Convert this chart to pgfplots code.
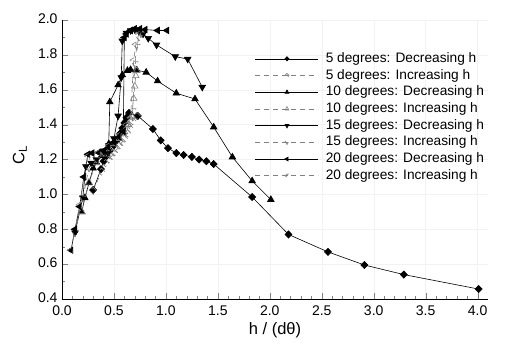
\documentclass[border=0pt]{standalone}
\usepackage{pgfplots}
\pgfplotsset{compat=1.18}
\usepackage{fontspec}
\setmainfont{Liberation Sans}
\begin{document}
\begin{tikzpicture}
\begin{axis}[
  scale only axis,
  width=426pt, height=279pt,
  xmin=0, xmax=4.1, ymin=0.4, ymax=2.0,
  axis lines*=left,
  xtick={0,0.5,...,4.0},
  ytick={0.4,0.6,...,2.0},
  minor x tick num=4,
  minor y tick num=1,
  tick align=inside,
  major tick length=6pt,
  minor tick length=3pt,
  grid=major,
  major grid style={black!5},
  /pgf/number format/assume math mode=true,
  xticklabel style={yshift=-3pt,/pgf/number format/.cd,fixed,fixed zerofill,precision=1},
  yticklabel style={xshift=-1pt,yshift=1pt,/pgf/number format/.cd,fixed,fixed zerofill,precision=1},
  tick label style={font=\fontsize{14}{16}\selectfont},
  xlabel={h / (dθ)},
  ylabel={C\textsubscript{L}},
  xlabel style={at={(axis description cs:0.5,-0.111)},anchor=center,font=\fontsize{16.5}{18}\selectfont},
  ylabel style={at={(axis description cs:-0.099,0.516)},anchor=center,rotate=0,font=\fontsize{16.5}{18}\selectfont},
  legend cell align=left,
  legend style={at={(rel axis cs:0.446,0.892)},anchor=north west,draw=none,fill=none,
     font=\fontsize{13.7}{16}\selectfont,
     nodes={inner sep=0pt,text height=10pt,text depth=3pt},
     row sep=3.7pt,
     /tikz/every odd column/.append style={column sep=7pt}},
  legend image code/.code={%
    \draw[mark repeat=2,mark phase=2,#1,every mark/.append style={scale=0.6}]
      plot coordinates {(0pt,0pt) (31.5pt,0pt) (63pt,0pt)};},
  dec/.style={black,line width=0.6pt,mark options={solid,fill=black}},
  inc/.style={black!50,line width=0.6pt,dash pattern=on 5pt off 4pt,mark options={solid,fill=white,draw=black!50}},
]
\coordinate (O) at (rel axis cs:0,0);
% 5 deg decreasing
\addplot[dec,mark=diamond*,mark size=3.6pt,mark options={xscale=1.3}] coordinates {
(4.01,0.457)(3.29,0.54)(2.91,0.595)(2.56,0.67)(2.18,0.77)(1.83,0.985)
(1.46,1.174)(1.39,1.19)(1.32,1.20)(1.25,1.215)(1.17,1.226)(1.10,1.237)(1.02,1.265)(0.95,1.31)
(0.875,1.375)(0.73,1.45)(0.645,1.467)(0.62,1.44)(0.60,1.41)(0.58,1.38)(0.56,1.35)(0.53,1.31)
(0.50,1.28)(0.46,1.25)(0.43,1.22)(0.40,1.19)(0.375,1.145)(0.30,1.025)};
\addlegendentry{5 degrees: Decreasing h}
% 5 deg increasing
\addplot[inc,mark=diamond,mark size=3.6pt,mark options={xscale=1.3}] coordinates {
(0.30,1.02)(0.38,1.13)(0.42,1.18)(0.45,1.20)(0.48,1.22)(0.50,1.24)(0.53,1.26)(0.55,1.28)(0.58,1.30)
(0.60,1.32)(0.63,1.35)(0.65,1.38)(0.68,1.42)(0.72,1.45)};
\addlegendentry{5 degrees: Increasing h}
% 10 deg decreasing
\addplot[dec,mark=triangle*,mark size=3.8pt] coordinates {
(2.01,0.97)(1.83,1.077)(1.64,1.214)(1.46,1.386)(1.28,1.547)(1.10,1.58)(0.92,1.65)(0.81,1.70)
(0.72,1.713)(0.66,1.715)(0.63,1.71)(0.58,1.685)(0.54,1.627)(0.46,1.53)(0.45,1.29)(0.42,1.25)
(0.38,1.22)(0.33,1.185)(0.30,1.15)(0.26,1.065)(0.22,0.98)(0.19,0.90)};
\addlegendentry{10 degrees: Decreasing h}
% 10 deg increasing
\addplot[inc,mark=triangle,mark size=3.8pt] coordinates {
(0.19,0.90)(0.26,1.07)(0.33,1.18)(0.40,1.23)(0.45,1.26)(0.50,1.29)(0.55,1.32)(0.60,1.36)
(0.64,1.40)(0.67,1.45)(0.69,1.55)(0.70,1.62)(0.71,1.68)(0.72,1.71)};
\addlegendentry{10 degrees: Increasing h}
% 15 deg decreasing
\addplot[dec,mark=triangle*,mark size=3.8pt,mark options={rotate=180}] coordinates {
(1.35,1.615)(1.21,1.776)(1.09,1.79)(0.91,1.857)(0.83,1.895)(0.78,1.92)(0.74,1.935)(0.70,1.945)
(0.66,1.94)(0.62,1.925)(0.58,1.88)(0.57,1.67)(0.54,1.45)(0.50,1.32)(0.45,1.28)(0.40,1.25)
(0.33,1.20)(0.28,1.18)(0.23,1.16)(0.20,0.98)(0.125,0.78)};
\addlegendentry{15 degrees: Decreasing h}
% 15 deg increasing
\addplot[inc,mark=triangle,mark size=3.8pt,mark options={rotate=180}] coordinates {
(0.125,0.78)(0.20,0.98)(0.26,1.15)(0.33,1.20)(0.40,1.24)(0.45,1.27)(0.50,1.30)(0.55,1.33)
(0.60,1.37)(0.65,1.42)(0.68,1.48)(0.70,1.75)(0.72,1.85)(0.74,1.90)(0.76,1.92)};
\addlegendentry{15 degrees: Increasing h}
% 20 deg decreasing
\addplot[dec,mark=triangle*,mark size=3.8pt,mark options={rotate=90}] coordinates {
(1.01,1.94)(0.92,1.94)(0.80,1.945)(0.75,1.95)(0.70,1.95)(0.66,1.94)(0.62,1.92)(0.60,1.90)
(0.59,1.36)(0.55,1.33)(0.50,1.30)(0.45,1.27)(0.40,1.25)(0.35,1.24)(0.29,1.237)(0.25,1.23)
(0.21,1.10)(0.17,0.93)(0.125,0.80)(0.087,0.68)};
\addlegendentry{20 degrees: Decreasing h}
% 20 deg increasing
\addplot[inc,mark=triangle,mark size=3.8pt,mark options={rotate=90}] coordinates {
(0.087,0.68)(0.17,0.94)(0.25,1.22)(0.35,1.24)(0.45,1.28)(0.55,1.34)(0.62,1.40)(0.66,1.44)
(0.69,1.77)(0.71,1.86)(0.74,1.92)};
\addlegendentry{20 degrees: Increasing h}
\end{axis}
\pgfresetboundingbox
\path (O) ++(-62pt,-52pt) rectangle ++(509pt,351pt);
\end{tikzpicture}
\end{document}
